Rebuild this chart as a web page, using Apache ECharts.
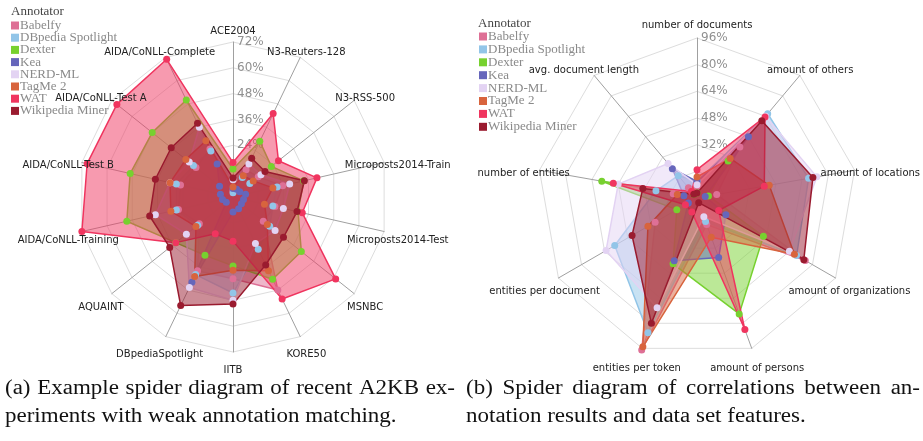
<!DOCTYPE html>
<html>
<head>
<meta charset="utf-8">
<script src="https://cdn.jsdelivr.net/npm/echarts@6/dist/echarts.min.js"></script>
<style>
html, body { margin: 0; padding: 0; background: #fff; }
#main { width: 923px; height: 441px; }
</style>
</head>
<body>
<div id="main"></div>
<script>
/*---------- 数据 ----------*/
var annotators = ['Babelfy', 'DBpedia Spotlight', 'Dexter', 'Kea', 'NERD-ML', 'TagMe 2', 'WAT', 'Wikipedia Miner'];
var colors = ['#de7096', '#92c5e8', '#77d12f', '#6666bb', '#e3d3f3', '#d8643d', '#f0355f', '#9a1b2f'];

// (a) datasets, counterclockwise from top
var datasetsA = ['ACE2004', 'AIDA/CoNLL-Complete', 'AIDA/CoNLL-Test A', 'AIDA/CoNLL-Test B',
	'AIDA/CoNLL-Training', 'AQUAINT', 'DBpediaSpotlight', 'IITB', 'KORE50', 'MSNBC',
	'Microposts2014-Test', 'Microposts2014-Train', 'N3-RSS-500', 'N3-Reuters-128'];
var ticksA = ['24%', '36%', '48%', '60%', '72%'];
var babelfyA = [3, 24.7, 22, 25, 26, 20, 38, 38, 48, 18, 20, 23.7, 15, 14];
var dbpediaA = [2, 23.7, 23.5, 27, 27, 21, 40, 44.6, 27, 21.8, 19, 21, 10, 10];
var dexterA = [13, 50, 48, 49, 50.6, 34, 30, 32, 42.4, 40.6, 31, 33.7, 22.8, 28.7];
var keaA = [4, 17, 8, 6, 5, 4, 44, 7, 6, 5, 5, 6, 4, 4];
var nerdA = [8, 36, 26, 30, 37, 27.7, 46.7, 48, 24, 25, 24, 27, 16.6, 17];
var tagmeA = [4.6, 29, 28, 30, 29.6, 22, 41, 34, 38, 20.4, 15, 19, 12, 11];
var watA = [16, 71, 69, 69.5, 72, 34, 19, 20.5, 52.6, 61, 33, 40, 27, 43];
var wikiA = [8.8, 38, 36.7, 37, 39.7, 37.6, 56, 49.7, 35, 30, 30.5, 34, 19, 20];

// (b) features, counterclockwise from top
var featuresB = ['number of documents', 'avg. document length', 'number of entities', 'entities per document',
	'entities per token', 'amount of persons', 'amount of organizations', 'amount of locations', 'amount of others'];
var ticksB = ['32%', '48%', '64%', '80%', '96%'];
var babelfyB = [7, 8, 14.5, 29, 97, 17, 75, 12, 40];
var dbpediaB = [10, 17.5, 25, 57, 86, 15, 69, 68, 66];
var dexterB = [3, 3, 58, 14, 42, 74, 46, 7, 29];
var keaB = [10, 23, 8, 6, 40, 38, 20, 5, 48];
var nerdB = [8, 27, 48, 63, 70, 12, 64, 73, 64];
var tagmeB = [12.6, 5, 12, 34, 95, 25, 67.5, 44, 31];
var watB = [17, 5, 51, 8, 9, 84, 15, 41, 63.5];
var wikiB = [3, 3, 33, 45, 80, 3, 74, 70.6, 60.5];

var valuesA = [babelfyA, dbpediaA, dexterA, keaA, nerdA, tagmeA, watA, wikiA];
var valuesB = [babelfyB, dbpediaB, dexterB, keaB, nerdB, tagmeB, watB, wikiB];

/*---------- 布局 ----------*/
var radarA = {center: [233, 197], radius: 155, max: 72, nameGap: 14};
var radarB = {center: [697, 198], radius: 160, max: 96, nameGap: 16};
var captionFont = '20px "Liberation Serif"';
var captionScale = 1.15;

function makeRadar(cfg, names, ticks) {
	return {
		center: cfg.center,
		radius: cfg.radius,
		startAngle: 90,
		splitNumber: 6,
		shape: 'polygon',
		indicator: names.map(function (n, i) {
			var ind = {name: n, max: cfg.max, min: 0};
			if (i === 0) {
				// tick labels only on the top axis, to its right
				ind.axisLabel = {
					show: true,
					margin: -4,
					align: 'left',
					color: '#909090',
					fontSize: 12,
					fontFamily: 'DejaVu Sans',
					formatter: function (v) {
						var s = Math.round(v) + '%';
						return ticks.indexOf(s) >= 0 ? s : '';
					}
				};
			}
			return ind;
		}),
		axisName: {show: false},
		axisLine: {lineStyle: {color: '#a0a0a0', width: 1}},
		axisTick: {show: false},
		splitLine: {lineStyle: {color: '#dddddd', width: 1}},
		splitArea: {show: false}
	};
}

function makeSeries(values, radarIndex) {
	return annotators.map(function (name, i) {
		return {
			type: 'radar',
			name: name,
			radarIndex: radarIndex,
			symbol: 'circle',
			symbolSize: 7,
			itemStyle: {color: colors[i]},
			lineStyle: {color: colors[i], width: 1.5},
			areaStyle: {color: colors[i], opacity: 0.5},
			emphasis: {disabled: true},
			data: [{name: name, value: values[i]}]
		};
	});
}

// axis names centred just beyond the end of each axis
function nameLabels(names, cfg) {
	return names.map(function (n, i) {
		var a = (90 + i * 360 / names.length) * Math.PI / 180;
		var r = cfg.radius + cfg.nameGap;
		var dy = i === 0 ? 3 : 6 + 1.5 * Math.sin(a);
		return {
			type: 'text',
			x: cfg.center[0] + r * Math.cos(a),
			y: cfg.center[1] - r * Math.sin(a) + dy,
			z: 100,
			style: {
				text: n, fill: '#222', font: '10px "DejaVu Sans"',
				align: 'center', verticalAlign: 'middle',
				textAlign: 'center', textVerticalAlign: 'middle'
			}
		};
	});
}

// caption line, word by word; justified to width if given
var measureCtx = document.createElement('canvas').getContext('2d');
measureCtx.font = captionFont;
function caption(x, y, text, width) {
	var words = text.split(' ');
	var wid = function (w) { return measureCtx.measureText(w).width * captionScale; };
	var space = wid(' ');
	if (width) {
		var total = 0;
		words.forEach(function (w) { total += wid(w); });
		space = (width - total) / (words.length - 1);
	}
	var cx = x;
	return words.map(function (w) {
		var el = {
			type: 'text', x: cx, y: y, z: 100, scaleX: captionScale,
			style: {text: w, fill: '#111', font: captionFont, align: 'left', verticalAlign: 'middle', textVerticalAlign: 'middle'}
		};
		cx += wid(w) + space;
		return el;
	});
}

function makeLegend(left, top, gap) {
	return {
		orient: 'vertical',
		left: left,
		top: top,
		icon: 'rect',
		itemWidth: 8,
		itemHeight: 8,
		itemGap: gap,
		selectedMode: false,
		padding: 0,
		textStyle: {fontFamily: 'Liberation Serif', fontSize: 13, color: '#8a8a8a', lineHeight: 12, padding: [0, 0, 0, -4]},
		data: annotators
	};
}

var chart = echarts.init(document.getElementById('main'), null, {renderer: 'canvas'});
chart.setOption({
	backgroundColor: '#ffffff',
	animation: false,
	title: [{
		text: 'Annotator', left: 11, top: 5, padding: 0,
		textStyle: {fontFamily: 'Liberation Serif', fontSize: 13, fontWeight: 'normal', color: '#444'}
	}, {
		text: 'Annotator', left: 478, top: 17, padding: 0,
		textStyle: {fontFamily: 'Liberation Serif', fontSize: 13, fontWeight: 'normal', color: '#444'}
	}],
	legend: [makeLegend(11, 19, -0.8), makeLegend(479, 30, -0.1)],
	radar: [makeRadar(radarA, datasetsA, ticksA), makeRadar(radarB, featuresB, ticksB)],
	series: makeSeries(valuesA, 0).concat(makeSeries(valuesB, 1)),
	graphic: nameLabels(datasetsA, radarA)
		.concat(nameLabels(featuresB, radarB))
		.concat(caption(5, 389, '(a) Example spider diagram of recent A2KB ex-', 450))
		.concat(caption(5, 417, 'periments with weak annotation matching.'))
		.concat(caption(466, 389, '(b) Spider diagram of correlations between an-', 454))
		.concat(caption(466, 417, 'notation results and data set features.'))
});
</script>
</body>
</html>
